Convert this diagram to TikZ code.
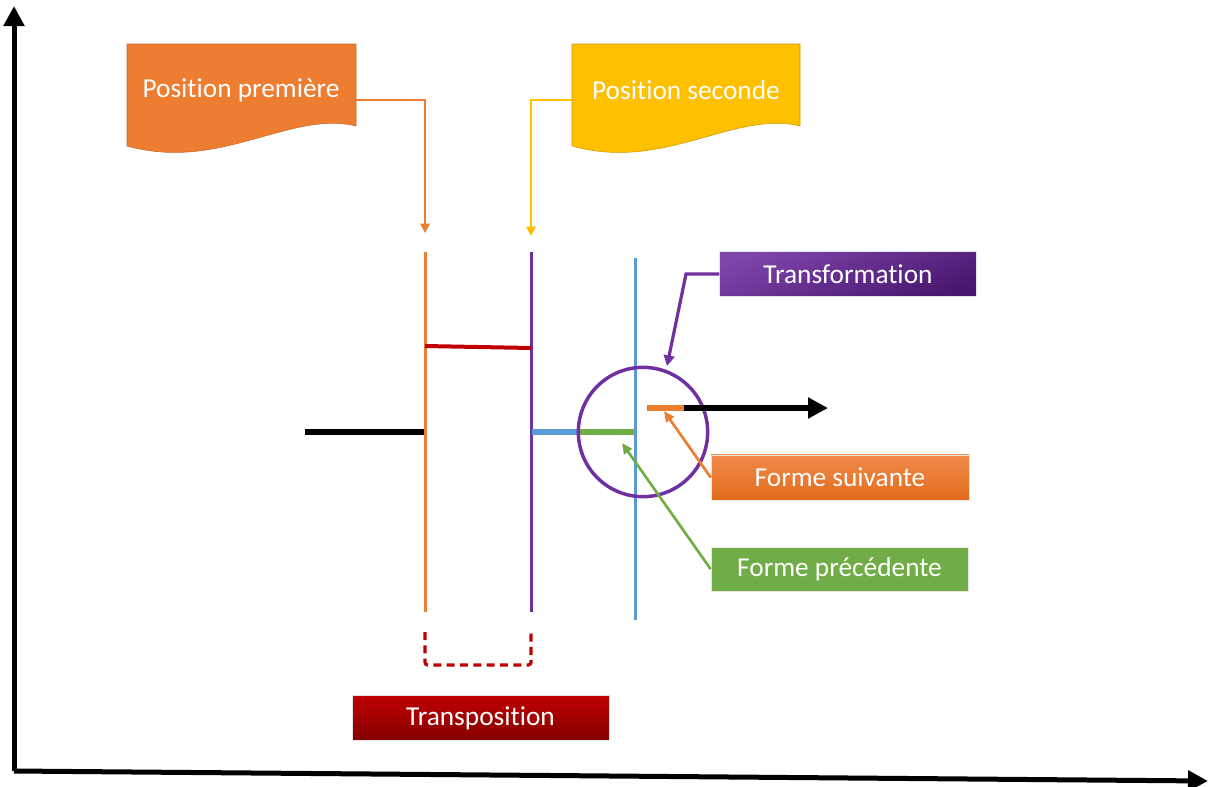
\documentclass[tikz,border=0pt]{standalone}
\usepackage{fontspec}
\setmainfont{Carlito}[Ligatures=NoCommon]
\usetikzlibrary{arrows.meta}
\definecolor{cOrange}{HTML}{ED7D31}
\definecolor{cOrangeL}{HTML}{F0894A}
\definecolor{cOrangeD}{HTML}{E36C1C}
\definecolor{cGold}{HTML}{FFC000}
\definecolor{cPurple}{HTML}{7030A0}
\definecolor{cPurpleD}{HTML}{4A1670}
\definecolor{cRed}{HTML}{C00000}
\definecolor{cRedD}{HTML}{850000}
\definecolor{cBlue}{HTML}{5B9BD5}
\definecolor{cGreen}{HTML}{70AD47}
\begin{document}
\begin{tikzpicture}[x=0.75pt,y=-0.75pt,
  lbl/.style={text=white,font=\fontsize{20.5}{24}\selectfont},
  box/.style={lbl,draw=white!80!gray,line width=0.4pt,minimum width=192.5pt,minimum height=34pt,inner sep=0pt},
  conn/.style={line width=2pt,-{Triangle[length=7pt,width=7pt]}},
  bar/.style={line width=2.25pt},
  axis/.style={line width=3.75pt,-{Triangle[length=15pt,width=15pt]}}]
\useasboundingbox (0,0) rectangle (1209,786);

% axes
\coordinate (O) at (14,771);
\coordinate (Ytop) at (14,6);
\coordinate (Xend) at (1208,781);
\draw[axis] (O) -- (Ytop);
\draw[axis] (O) -- (Xend);

% document shapes
\draw[fill=cOrange,draw=cOrange!85!black,line width=0.4pt]
  (127,44) -- (356,44) -- (356,126) .. controls (290,110) and (220,172) .. (127,146) -- cycle;
\node[lbl] (pp) at (241,90) {Position première};
\draw[fill=cGold,draw=cGold!80!black,line width=0.4pt]
  (572,44) -- (800,44) -- (800,126) .. controls (734,110) and (664,172) .. (572,146) -- cycle;
\node[lbl] (ps) at (686,90) {Position seconde};
\coordinate (ppout) at (356,100);
\coordinate (psout) at (572,100);
\coordinate (ppin) at (425,233);
\coordinate (psin) at (531,236);
\draw[conn,cOrange] (ppout) -| (ppin);
\draw[conn,cGold] (psout) -| (psin);

% vertical bars
\coordinate (o1) at (425,252); \coordinate (o2) at (425,612);
\coordinate (p1) at (531,252); \coordinate (p2) at (531,612);
\coordinate (b1) at (635,258); \coordinate (b2) at (635,620);
\draw[bar,cOrange] (o1) -- (o2);
\draw[bar,cPurple] (p1) -- (p2);
\draw[bar,cBlue] (b1) -- (b2);

% horizontal segments
\coordinate (r1) at (425,346); \coordinate (r2) at (531,348);
\draw[line width=3pt,cRed] (r1) -- (r2);
\coordinate (k1) at (305,432); \coordinate (k2) at (424,432);
\draw[line width=4.5pt,black] (k1) -- (k2);
\coordinate (bl1) at (532,432); \coordinate (bl2) at (580,432); \coordinate (g2) at (634,432);
\draw[line width=4pt,cBlue] (bl1) -- (bl2);
\draw[line width=4pt,cGreen] (bl2) -- (g2);

% circle
\node[circle,draw=cPurple,line width=2.6pt,minimum size=97pt,inner sep=0pt] (circ) at (643,432) {};

% next form + arrow
\coordinate (f1) at (647,408); \coordinate (f2) at (684,408); \coordinate (f3) at (828,408);
\draw[line width=4pt,cOrange] (f1) -- (f2);
\draw[line width=4.5pt,black,-{Triangle[length=15pt,width=15pt]}] (f2) -- (f3);

% label boxes
\node[box,top color=cPurple!90!white,bottom color=cPurpleD,shading angle=20] (tf) at (848,274) {Transformation};
\node[box,top color=cOrangeL,bottom color=cOrangeD,minimum width=193.5pt] (fs) at (840,477.5) {Forme suivante};
\node[box,fill=cGreen,minimum width=193pt,minimum height=33pt] (fp) at (839.5,569) {Forme précédente};
\node[box,top color=cRed,bottom color=cRedD] (tp) at (480.5,718) {Transposition};

% label connectors
\coordinate (tfk) at (686,274);
\coordinate (tfend) at (667,366);
\draw[line width=2.4pt,cPurple,-{Triangle[length=8pt,width=8pt]}] (tf.west) -- (tfk) -- (tfend);
\coordinate (fsend) at (664,411);
\draw[line width=2pt,cOrange,-{Triangle[length=8pt,width=7pt]}] (fs.west) -- (fsend);
\coordinate (fpend) at (622,443);
\draw[line width=2pt,cGreen,-{Triangle[length=8pt,width=7pt]}] (fp.west) -- (fpend);

% dashed transposition bracket
\coordinate (d1) at (425,632); \coordinate (d2) at (425,665);
\coordinate (d3) at (531,665); \coordinate (d4) at (531,630);
\draw[line width=2.4pt,cRed,dash pattern=on 6pt off 4pt,rounded corners=2pt] (d1) -- (d2) -- (d3) -- (d4);
\end{tikzpicture}
\end{document}
